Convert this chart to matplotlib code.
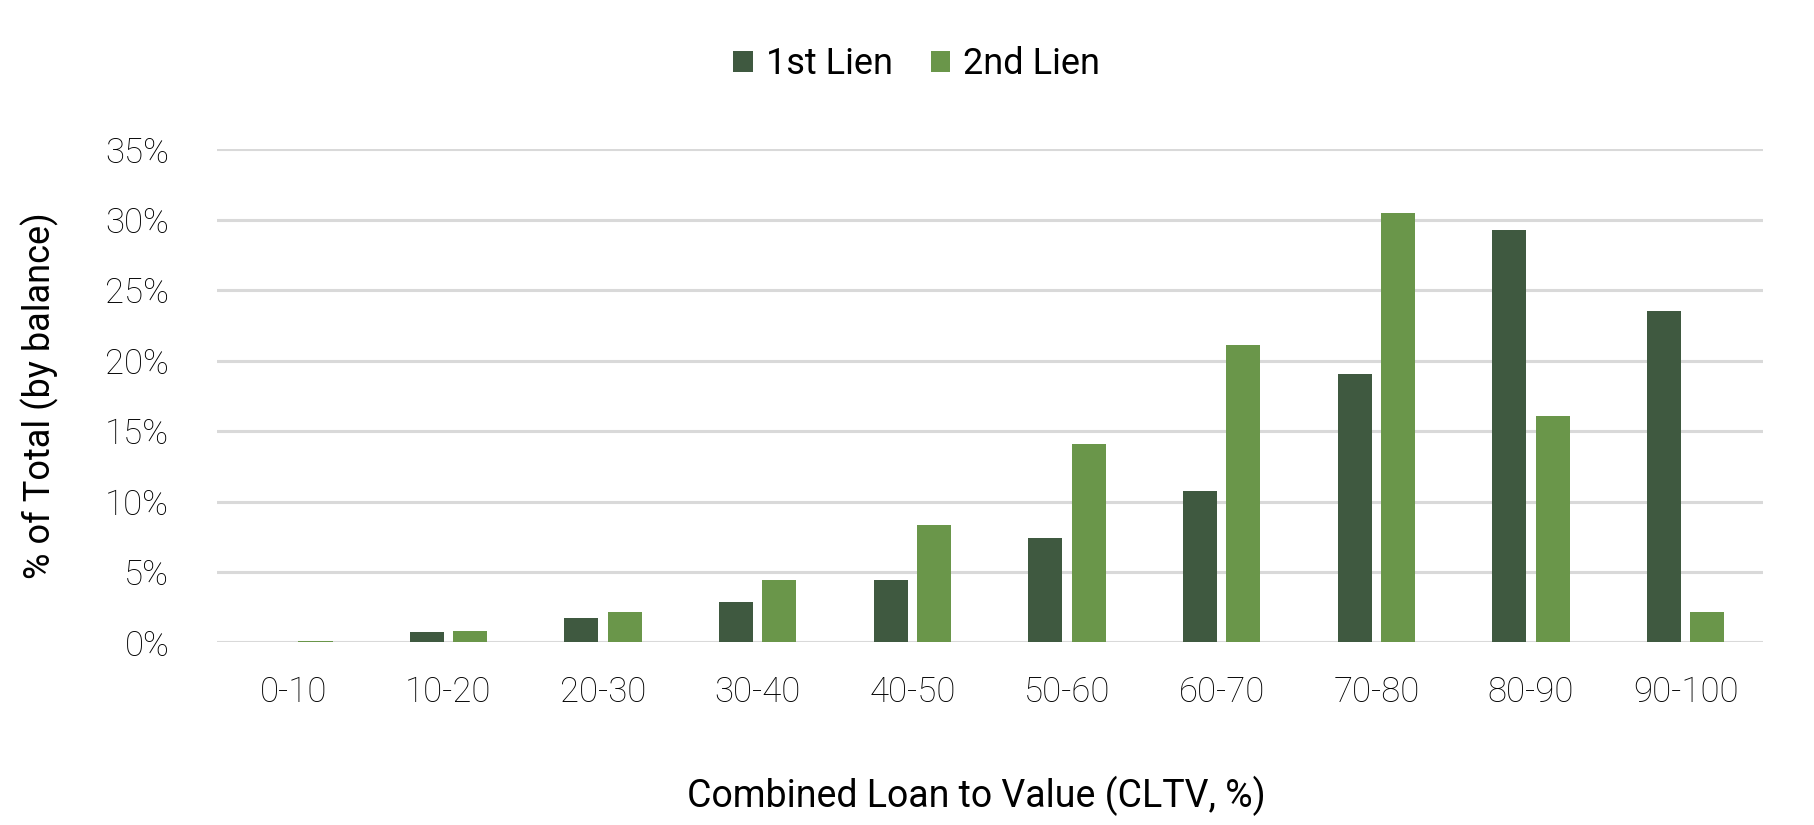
import matplotlib
matplotlib.use("Agg")
import matplotlib.pyplot as plt
import numpy as np
from matplotlib.ticker import FuncFormatter

categories = ["0-10", "10-20", "20-30", "30-40", "40-50", "50-60", "60-70", "70-80", "80-90", "90-100"]
first_lien = [0.0, 0.72, 1.73, 2.88, 4.45, 7.4, 10.75, 19.05, 29.25, 23.5]
second_lien = [0.13, 0.8, 2.15, 4.45, 8.3, 14.05, 21.1, 30.5, 16.1, 2.15]
series_names = ["1st Lien", "2nd Lien"]
yticks = [0, 5, 10, 15, 20, 25, 30, 35]

dark = "#3F5940"
light = "#6A964A"
grid_c = "#D9D9D9"

plt.rcParams['font.family'] = ['Roboto', 'DejaVu Sans']

fig = plt.figure(figsize=(18.15, 8.25), dpi=100)
ax = fig.add_axes([0.1193, 0.2213, 0.852, 0.5977])

x = np.arange(len(categories))
w = 0.22
off = 0.14
ax.bar(x - off, first_lien, width=w, color=dark, label=series_names[0], zorder=3)
ax.bar(x + off, second_lien, width=w, color=light, label=series_names[1], zorder=3)

ax.set_xlim(-0.5, len(categories) - 0.5)
ax.set_ylim(0, 35)
ax.set_yticks(yticks)
ax.yaxis.set_major_formatter(FuncFormatter(lambda v, p: f"{v:.0f}%"))
ax.set_xticks(x)
ax.set_xticklabels(categories)
for s in ax.spines.values():
    s.set_visible(False)
ax.grid(axis='y', color=grid_c, linewidth=2.2, zorder=0)
ax.set_axisbelow(True)
ax.tick_params(axis='both', length=0, labelsize=25, colors='#000000')
ax.tick_params(axis='y', pad=34)
ax.tick_params(axis='x', pad=24)
for lab in ax.get_xticklabels() + ax.get_yticklabels():
    lab.set_fontweight('light')

ax.set_xlabel("Combined Loan to Value (CLTV, %)", fontsize=27, labelpad=51, color='#000000')
ax.xaxis.set_label_coords(0.4915, -0.27)
ax.set_ylabel("% of Total (by balance)", fontsize=26, labelpad=33, color='#000000')

leg = fig.legend(loc='center', bbox_to_anchor=(0.505, 0.922), ncol=2, frameon=False,
                 fontsize=26, handlelength=0.55, handleheight=0.55, handletextpad=0.35,
                 columnspacing=1.05)

fig.savefig("out.png", dpi=100, facecolor='white')
